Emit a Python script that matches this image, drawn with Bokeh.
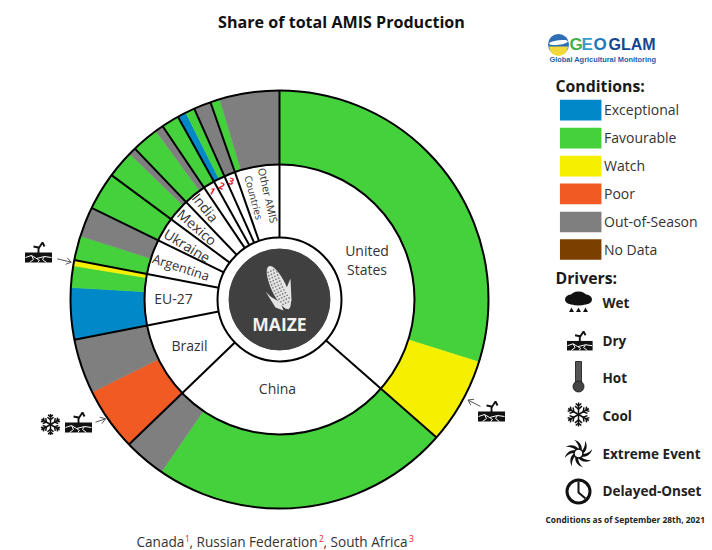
import numpy as np
from bokeh.plotting import figure
from bokeh.core.properties import value
from bokeh.embed import file_html
from bokeh.resources import INLINE

# ---- data (percent of total AMIS production) ----
countries = ["United States", "China", "Brazil", "EU-27", "Argentina", "Ukraine", "Mexico", "India",
             "Canada", "Russian Federation", "South Africa", "Other AMIS Countries"]
cond_us = [("Favourable", 29.83), ("Watch", 6.64)]
cond_china = [("Favourable", 23.08), ("Out-of-Season", 3.25)]
cond_brazil = [("Poor", 4.89), ("Out-of-Season", 4.22)]
cond_eu = [("Exceptional", 4.0), ("Favourable", 1.67), ("Watch", 0.44)]
cond_argentina = [("Favourable", 1.89), ("Out-of-Season", 2.31)]
cond_ukraine = [("Favourable", 2.92)]
cond_mexico = [("Favourable", 2.14), ("Out-of-Season", 0.56)]
cond_india = [("Favourable", 2.08), ("Out-of-Season", 0.64)]
cond_canada = [("Favourable", 1.36)]
cond_russia = [("Exceptional", 0.67), ("Favourable", 0.72)]
cond_south_africa = [("Out-of-Season", 1.33)]
cond_other = [("Favourable", 0.75), ("Out-of-Season", 4.61)]
all_conditions = [cond_us, cond_china, cond_brazil, cond_eu, cond_argentina, cond_ukraine, cond_mexico,
                  cond_india, cond_canada, cond_russia, cond_south_africa, cond_other]
legend_conditions = ["Exceptional", "Favourable", "Watch", "Poor", "Out-of-Season", "No Data"]
legend_colors = ["#0088C9", "#44D13C", "#F5F000", "#F15A22", "#7F7F7F", "#7B3F00"]
legend_drivers = ["Wet", "Dry", "Hot", "Cool", "Extreme Event", "Delayed-Onset"]
color_of = dict(zip(legend_conditions, legend_colors))

W, H = 712, 550
p = figure(width=W, height=H, output_backend="svg", toolbar_location=None,
           x_range=(0, W), y_range=(0, H), min_border=0,
           outline_line_color=None, background_fill_color="white", border_fill_color="white")
p.axis.visible = False
p.grid.visible = False

FONT = value("Open Sans")
def Y(y):
    return 550 - np.asarray(y, dtype=float) if np.ndim(y) else 550 - y

CX, CY = 279.0, 299.0
R_OUT, R_MID, R_IN, R_DARK = 209.0, 135.0, 62.0, 50.5
BLACK = "#000000"
TXT = "#333333"

def txt(x, y, s, size, color=TXT, bold=False, align="center", angle=0, font=FONT):
    p.text([x], [Y(y)], text=[s], text_font=font, text_font_size=f"{size}px", text_color=color,
           text_font_style="bold" if bold else "normal", text_align=align, text_baseline="middle",
           angle=angle, angle_units="deg")

# ---- rings ----
total = sum(v for c in all_conditions for _, v in c)
seg_val, seg_col = [], []
for c in all_conditions:
    for name, v in c:
        seg_val.append(v)
        seg_col.append(color_of[name])
seg_cum = np.cumsum([0] + seg_val) / total * 360.0
start_cw, end_cw = seg_cum[:-1], seg_cum[1:]
p.annular_wedge(x=CX, y=Y(CY), inner_radius=R_MID, outer_radius=R_OUT,
                start_angle=np.radians(90 - end_cw), end_angle=np.radians(90 - start_cw),
                direction="anticlock", fill_color=seg_col, line_color=seg_col, line_width=0.5)
for r in (R_OUT, R_MID, R_IN):
    p.circle(x=CX, y=Y(CY), radius=r, fill_color=None, line_color=BLACK, line_width=2)

shares = [sum(v for _, v in c) for c in all_conditions]
cum = np.cumsum([0] + shares) / total * 360.0
th = np.radians(cum[:-1])
p.segment(CX + R_IN * np.sin(th), Y(CY) + R_IN * np.cos(th),
          CX + R_OUT * np.sin(th), Y(CY) + R_OUT * np.cos(th), line_color=BLACK, line_width=2)

p.circle(x=CX, y=Y(CY), radius=R_DARK, fill_color="#404040", line_color="#404040")

# ---- country labels ----
txt(366.5, 250, "United", 14)
txt(366.5, 269, "States", 14)
txt(277, 388, "China", 14)
txt(189, 345, "Brazil", 14)
txt(173, 298, "EU-27", 14)
txt(180.5, 266.5, "Argentina", 13, angle=-18)
txt(186.7, 245, "Ukraine", 14, angle=-31)
txt(196.7, 226.7, "Mexico", 14, angle=-41)
txt(205, 207, "India", 14, angle=-51)
txt(267.5, 195, "Other AMIS", 10.5, angle=-77)
txt(253.5, 197, "Countries", 10, angle=-75)
for x, y, s, a in [(211.7, 191, "1", -30), (221, 185.7, "2", -25), (230.7, 181, "3", -20)]:
    txt(x, y, s, 9.5, color="#E8202A", bold=True, angle=a)

# ---- maize icon ----
LEAF = "#E4E4E4"
p.patches([[275, 283, 280, 270, 265], [284, 288, 291, 290, 285]],
          [list(Y(np.array(v))) for v in ([307, 310, 302, 296, 291], [306, 309, 300, 278, 290])],
          fill_color=LEAF, line_color=None)
p.ellipse(x=278.3, y=Y(287), width=47, height=15, angle=np.radians(115), fill_color=LEAF, line_color=None)
# kernel grid on the cob
ux, uy = -20 / 46.5, 42 / 46.5
vx, vy = uy, -ux
kx, ky = [], []
for a in np.arange(-17, 19, 3.2):
    half = 6.5 * np.sqrt(max(0, 1 - (a / 23.5) ** 2))
    for b in np.arange(-half + 1, half, 3.0):
        kx.append(278.3 + a * ux + b * vx)
        ky.append(Y(287) + a * uy + b * vy)
p.scatter(kx, ky, size=1.7, marker="circle", fill_color="#7a7a7a", line_color=None)
txt(279, 323, "MAIZE", 17.5, color="#F2F2F2", bold=True)

# ---- title and footers ----
txt(341, 21, "Share of total AMIS Production", 16.1, color="#111111", bold=True)
txt(136, 541, "Canada", 13.6, align="left")
txt(184.5, 538, "1", 8.5, color="#E8202A", align="left")
txt(189, 541, ", Russian Federation", 13.6, align="left")
txt(318.5, 538, "2", 8.5, color="#E8202A", align="left")
txt(323, 541, ", South Africa", 13.6, align="left")
txt(408.5, 538, "3", 8.5, color="#E8202A", align="left")
txt(545, 519, "Conditions as of September 28th, 2021", 8.4, color="#222222", bold=True, align="left")

# ---- logo ----
p.circle(x=558, y=Y(44), radius=10.5, fill_color="#2E6FB5", line_color=None)
p.wedge(x=558, y=Y(46), radius=9.5, start_angle=np.radians(180), end_angle=np.radians(360), fill_color="#F1D93A", line_color=None)
p.ellipse(x=558, y=Y(42), width=19, height=4.5, angle=np.radians(8), fill_color="white", line_color=None)
LOGO = value("Liberation Sans")
txt(569, 44, "G", 17, color="#3FB34A", bold=True, align="left", font=LOGO)
txt(581, 44, "E", 17, color="#3A9BC8", bold=True, align="left", font=LOGO)
txt(593, 44, "O", 17, color="#1F78B8", bold=True, align="left", font=LOGO)
txt(608, 44, "GLAM", 16, color="#14478F", bold=True, align="left", font=LOGO)
txt(549, 59, "Global Agricultural Monitoring", 7.4, color="#2560A8", bold=True, align="left", font=LOGO)

# ---- legend ----
txt(555, 85, "Conditions:", 15.8, color="#1a1a1a", bold=True, align="left")
txt(555, 277, "Drivers:", 15.8, color="#1a1a1a", bold=True, align="left")
sw_y = [109.7, 137.7, 165.7, 193.4, 221.5, 249]
p.rect(x=[580.2] * 6, y=Y(np.array(sw_y)), width=41.5, height=20.7, fill_color=legend_colors, line_color=None)
for y, s in zip(sw_y, legend_conditions):
    txt(603.5, y - 0.5, s, 14, align="left")
for y, s in zip([302, 340, 377, 415, 453, 490], legend_drivers):
    txt(602, y, s, 13.5, color="#222222", bold=True, align="left")

# ---- driver icons ----
INK = "#111111"
def dry(x0, y0, s=1.0):
    """Cracked soil block with a sprout; (x0, y0) top-left of a 28x21 box."""
    p.rect(x=x0 + 14 * s, y=Y(y0 + 16 * s), width=27 * s, height=10 * s, fill_color=INK, line_color=None)
    cx = [[x0 + a * s for a in seg] for seg in ([1, 7, 12, 20, 27], [7, 9, 5], [12, 15, 13], [20, 18, 22])]
    cy = [list(Y(np.array([y0 + a * s for a in seg]))) for seg in ([16, 14, 17, 15, 16], [14, 18, 21], [17, 19, 21], [15, 18, 21])]
    p.multi_line(cx, cy, line_color="white", line_width=1)
    p.multi_line([[x0 + 14 * s, x0 + 14 * s, x0 + 9 * s], [x0 + 14 * s, x0 + 18 * s, x0 + 20 * s]],
                 [list(Y(np.array([y0 + 12 * s, y0 + 6 * s, y0 + 5 * s]))),
                  list(Y(np.array([y0 + 7 * s, y0 + 1 * s, y0 + 5 * s])))],
                 line_color=INK, line_width=1.9)

def flake(cx, cy, r):
    xs, ys = [], []
    for k in range(6):
        a = np.radians(60 * k + 90)
        ca, sa = np.cos(a), np.sin(a)
        xs.append([cx, cx + r * ca])
        ys.append([Y(cy), Y(cy) + r * sa])
        for f, l in ((0.45, 0.38), (0.72, 0.3)):
            bx, by = cx + f * r * ca, Y(cy) + f * r * sa
            for d in (-50, 50):
                b = a + np.radians(d)
                xs.append([bx, bx + l * r * np.cos(b)])
                ys.append([by, by + l * r * np.sin(b)])
    p.multi_line(xs, ys, line_color=INK, line_width=1.5)

# wet
p.ellipse(x=[578, 571, 585, 578], y=list(Y(np.array([296, 299, 299, 301]))), width=[16, 13, 13, 20], height=[10, 10, 10, 8],
          fill_color=INK, line_color=None)
p.scatter(x=[571, 578, 585], y=list(Y(np.array([310, 310, 310]))), marker="triangle", size=5, fill_color=INK, line_color=None)
# dry
dry(566, 330, 0.95)
# hot
p.rect(x=578, y=Y(372), width=6, height=22, fill_color="#555555", line_color=INK, line_width=0.8)
p.circle(x=578, y=Y(386), radius=5.5, fill_color="#444444", line_color=INK, line_width=0.8)
# cool
flake(578, 414, 12)
# extreme event
blades_x, blades_y = [], []
for k in range(8):
    a0 = 2 * np.pi * k / 8
    t = np.linspace(0, 1, 10)
    ang_o = a0 + 1.1 * t
    rad_o = 4 + 10.5 * t
    ang_i = a0 + 0.65 + 0.45 * t[::-1]
    rad_i = 4 + 10.5 * t[::-1]
    blades_x.append(list(578 + rad_o * np.cos(ang_o)) + list(578 + rad_i * np.cos(ang_i)))
    blades_y.append(list(Y(453) + rad_o * np.sin(ang_o)) + list(Y(453) + rad_i * np.sin(ang_i)))
p.patches(blades_x, blades_y, fill_color=INK, line_color=None)
p.circle(x=578, y=Y(453), radius=4.5, fill_color=None, line_color=INK, line_width=1.5)
# delayed onset
p.circle(x=578, y=Y(491), radius=11.5, fill_color="white", line_color=INK, line_width=3)
p.multi_line([[578, 578, 585]], [list(Y(np.array([481, 492, 498])))], line_color=INK, line_width=2)

# ---- drivers placed on the chart, with arrows ----
dry(24, 241, 1.0)
flake(50, 424, 10.5)
dry(64, 411, 1.0)
dry(477, 400, 1.0)
GR = "#555555"
arrows = [[(56.7, 258.3), (70.7, 261.7)], [(95, 421.7), (105, 418.3)], [(480, 406), (467.5, 399.5)]]
ax, ay = [], []
for (x1, y1), (x2, y2) in arrows:
    ax.append([x1, x2]); ay.append([Y(y1), Y(y2)])
    a = np.arctan2(y1 - y2, x1 - x2)
    for d in (-0.6, 0.6):
        ax.append([x2, x2 + 6 * np.cos(a + d)])
        ay.append([Y(y2), Y(y2 + 6 * np.sin(a + d))])
p.multi_line(ax, ay, line_color=GR, line_width=1)

open("out.html", "w").write(file_html(p, INLINE))
